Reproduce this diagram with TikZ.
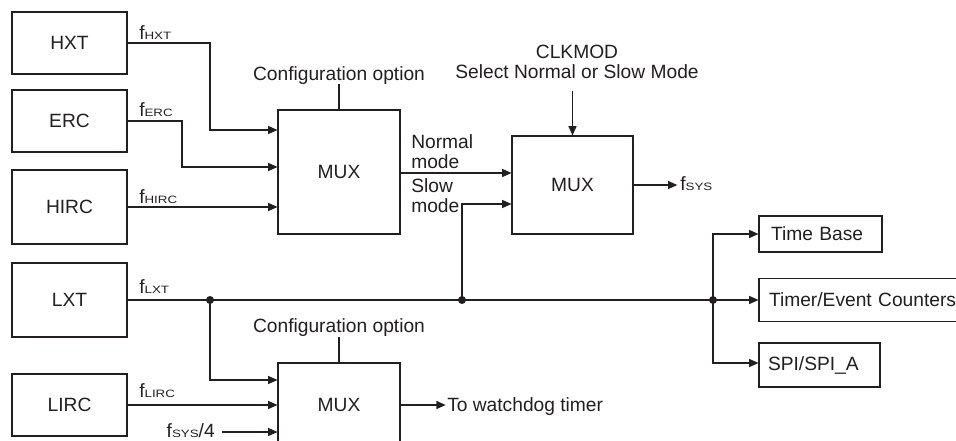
\documentclass[tikz,border=0pt]{standalone}
\usepackage{fontspec}
\setmainfont{Liberation Sans}
\usetikzlibrary{arrows.meta,calc}
\definecolor{ink}{HTML}{231F20}
\newcommand{\fsub}[1]{f\scalebox{1.25}[1]{\fontsize{8}{9}\selectfont #1}}
\begin{document}
\begin{tikzpicture}[x=0.75pt,y=-0.75pt,
  txt/.style={font=\fontsize{14.4}{14.5}\selectfont, text=ink},
  box/.style={txt, draw=ink, line width=0.8pt, inner sep=0pt},
  lbl/.style={txt, inner sep=0pt},
  wire/.style={draw=ink, line width=1pt},
  arr/.style={wire, -{Triangle[length=7pt,width=6pt]}}]
\useasboundingbox (0,0) rectangle (956,440);
\clip (0,0) rectangle (956,440);
\fill[white] (0,0) rectangle (956,440);

% clock sources
\node[box, minimum width=86.25pt, minimum height=46.5pt] (hxt) at (69.5,43) {HXT};
\node[box, minimum width=86.25pt, minimum height=46.5pt] (erc) at (69.5,121) {ERC};
\node[box, minimum width=86.25pt, minimum height=55.5pt] (hirc) at (69.5,207) {HIRC};
\node[box, minimum width=86.25pt, minimum height=55.5pt] (lxt) at (69.5,300) {LXT};
\node[box, minimum width=86.25pt, minimum height=46.5pt] (lirc) at (69.5,405) {LIRC};

% multiplexers
\node[box, minimum width=91.5pt, minimum height=93pt] (mux1) at (339,172) {MUX};
\node[box, minimum width=90.75pt, minimum height=73.5pt] (mux2) at (572.5,185) {MUX};
\node[box, minimum width=91.5pt, minimum height=63pt] (mux3) at (339,405) {MUX};

% destinations
\node[box, text width=74.25pt, inner xsep=9pt, align=left, minimum height=27pt] (tb) at (820.5,234) {Time Base};
\node[box, text width=143.25pt, inner xsep=7.5pt, align=left, minimum height=32.25pt] (tec) at (864.5,300) {Timer/Event Counters};
\node[box, text width=77.25pt, inner xsep=6.75pt, align=left, minimum height=33pt] (spi) at (819.5,365) {SPI/SPI\_A};

% labels
\node[lbl, anchor=base west] (lhxt) at (139,39.3) {\fsub{HXT}};
\node[lbl, anchor=base west] (lerc) at (139,116.7) {\fsub{ERC}};
\node[lbl, anchor=base west] (lhirc) at (139,203.3) {\fsub{HIRC}};
\node[lbl, anchor=base west] (llxt) at (139,293.3) {\fsub{LXT}};
\node[lbl, anchor=base west] (llirc) at (139,397.7) {\fsub{LIRC}};
\node[lbl, anchor=base east] (lf4) at (215,437) {\fsub{SYS}/4};
\node[lbl, anchor=base] (cfg1) at (339,80) {Configuration option};
\node[lbl, anchor=base] (cfg2) at (339,332.7) {Configuration option};
\node[lbl, align=center] (clk) at (577,62) {CLKMOD\\Select Normal or Slow Mode};
\node[lbl, align=left, anchor=west] (nm) at (411,151.7) {Normal\\mode};
\node[lbl, align=left, anchor=west] (sm) at (411,195.7) {Slow\\mode};
\node[lbl, anchor=base west] (fsys) at (680,190) {\fsub{SYS}};
\node[lbl, anchor=base west] (wd) at (447,411.5) {To watchdog timer};

% junctions and bends
\coordinate (b1) at (210,130);
\coordinate (b2) at (182,167);
\coordinate (d1) at (210,300);
\coordinate (d2) at (462,300);
\coordinate (d3) at (713,300);
\coordinate (f4s) at (222,432);

% connectors
\draw[arr] (hxt.east) -| (b1) -- (mux1.west |- b1);
\draw[arr] (erc.east) -| (b2) -- (mux1.west |- b2);
\draw[arr] (hirc.east) -- (mux1.west |- hirc.east);
\draw[wire] (cfg1.south) -- (mux1.north);
\draw[arr] ($(mux1.east)+(0,1)$) -- ($(mux2.west)+(0,-12)$);
\draw[arr] (d2) |- ($(mux2.west)+(0,19)$);
\draw[arr] ([yshift=-9pt]clk.south -| mux2.north) -- (mux2.north);
\draw[arr] (mux2.east) -- ([xshift=-2pt]mux2.east -| fsys.west);
\draw[wire] (lxt.east) -- (d3);
\draw[arr] (d3) |- (tb.west);
\draw[arr] (d3) -- (tec.west);
\draw[arr] (d3) |- ($(spi.west)+(0,-2)$);
\draw[arr] (d1) |- ($(mux3.west)+(0,-25)$);
\draw[arr] (lirc.east) -- (mux3.west);
\draw[arr] (f4s) -- (mux3.west |- f4s);
\draw[wire] (cfg2.south) -- (mux3.north);
\draw[arr] (mux3.east) -- ([xshift=-1pt]mux3.east -| wd.west);

\fill[ink] (d1) circle[radius=3pt];
\fill[ink] (d2) circle[radius=3pt];
\fill[ink] (d3) circle[radius=3pt];
\end{tikzpicture}
\end{document}
